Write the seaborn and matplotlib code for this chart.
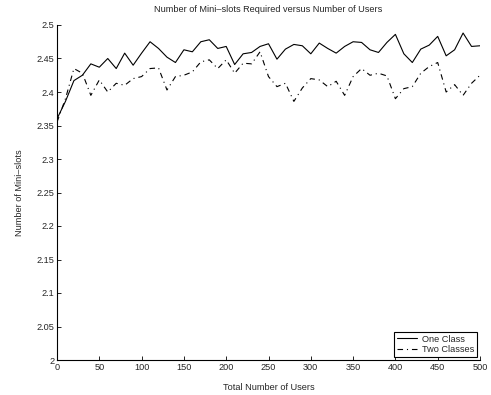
import numpy as np
import pandas as pd
import matplotlib
matplotlib.use("Agg")
import matplotlib.pyplot as plt
import seaborn as sns

users = list(range(0, 501, 10))
one_class = [2.360, 2.386, 2.417, 2.425, 2.442, 2.437, 2.450, 2.435, 2.458, 2.440,
             2.458, 2.475, 2.465, 2.452, 2.444, 2.463, 2.460, 2.475, 2.478, 2.465,
             2.468, 2.441, 2.457, 2.459, 2.468, 2.472, 2.449, 2.464, 2.471, 2.469,
             2.457, 2.473, 2.465, 2.458, 2.468, 2.475, 2.474, 2.463, 2.459, 2.474,
             2.486, 2.457, 2.444, 2.464, 2.470, 2.483, 2.454, 2.463, 2.488, 2.468,
             2.469]
two_classes = [2.355, 2.390, 2.435, 2.428, 2.395, 2.418, 2.400, 2.413, 2.410, 2.420,
               2.423, 2.435, 2.436, 2.403, 2.423, 2.425, 2.430, 2.445, 2.448, 2.435,
               2.448, 2.428, 2.443, 2.442, 2.460, 2.423, 2.408, 2.413, 2.386, 2.406,
               2.420, 2.418, 2.408, 2.416, 2.395, 2.423, 2.435, 2.425, 2.428, 2.424,
               2.390, 2.405, 2.408, 2.428, 2.438, 2.444, 2.400, 2.411, 2.395, 2.413,
               2.425]
series_names = ["One Class", "Two Classes"]
x_ticks = list(range(0, 501, 50))
y_ticks = [2, 2.05, 2.1, 2.15, 2.2, 2.25, 2.3, 2.35, 2.4, 2.45, 2.5]

sns.set_style("ticks")
plt.rcParams["font.family"] = ["Liberation Sans", "DejaVu Sans"]
plt.rcParams["xtick.direction"] = "in"
plt.rcParams["ytick.direction"] = "in"

df = pd.DataFrame({
    "users": users * 2,
    "value": one_class + two_classes,
    "series": [series_names[0]] * len(users) + [series_names[1]] * len(users),
})

fig = plt.figure(figsize=(4.91, 3.95), dpi=100)
ax = fig.add_axes([57 / 491, 1 - 360 / 395, 423 / 491, 335 / 395])

sns.lineplot(data=df[df.series == series_names[0]], x="users", y="value",
             color="black", linewidth=0.8, linestyle="-", ax=ax, label=series_names[0])
sns.lineplot(data=df[df.series == series_names[1]], x="users", y="value",
             color="black", linewidth=0.8, linestyle="-.", ax=ax, label=series_names[1])
ax.lines[1].set_dashes((5, 3.5, 1, 3.5))

ax.set_xlim(0, 500)
ax.set_ylim(2, 2.5)
ax.set_xticks(x_ticks)
ax.set_yticks(y_ticks)
ax.set_yticklabels([f"{v:g}" for v in y_ticks])
ax.tick_params(labelsize=6.6, length=3, width=0.6, color="black", pad=2)
for s in ["top", "right"]:
    ax.spines[s].set_visible(False)
for s in ["left", "bottom"]:
    ax.spines[s].set_linewidth(0.8)
    ax.spines[s].set_color("black")

ax.set_title("Number of Mini\u2013slots Required versus Number of Users", fontsize=6.6, pad=9)
ax.set_xlabel("Total Number of Users", fontsize=6.6, labelpad=8)
ax.set_ylabel("Number of Mini\u2013slots", fontsize=6.6, labelpad=9)

leg = ax.legend(loc="lower right", fontsize=6.6, frameon=True, fancybox=False,
                edgecolor="black", framealpha=1, handlelength=2.2, borderpad=0.3,
                labelspacing=0.2, handletextpad=0.6, borderaxespad=0.3)
leg.get_frame().set_linewidth(0.8)

fig.savefig("out.png", dpi=100)
